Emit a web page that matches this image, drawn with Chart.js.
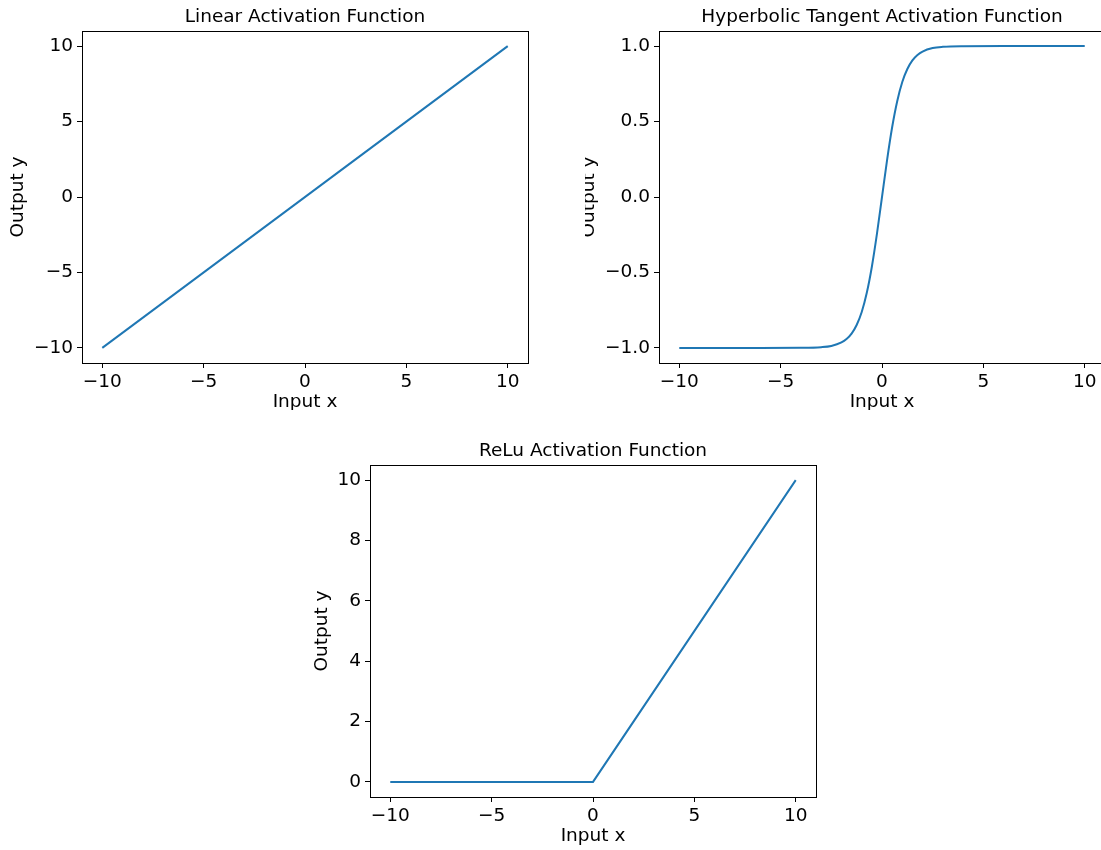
<!DOCTYPE html>
<html>
<head>
<meta charset="utf-8">
<script src="https://cdn.jsdelivr.net/npm/chart.js@4.4.0/dist/chart.umd.min.js"></script>
<style>
  html, body { margin: 0; padding: 0; background: #fff; overflow: hidden; }
  body { width: 1101px; height: 850px; position: relative; }
  .wrap { position: absolute; overflow: hidden; }
  .wrap canvas { position: absolute; top: 0; }
</style>
</head>
<body>
<div class="wrap" style="left:0px;top:0px;width:540px;height:410px;">
  <canvas id="linearChart" width="540" height="420" style="left:0px;width:540px;height:420px;"></canvas>
</div>
<div class="wrap" style="left:585px;top:0px;width:516px;height:410px;">
  <canvas id="tanhChart" width="540" height="420" style="left:-8px;width:540px;height:420px;"></canvas>
</div>
<div class="wrap" style="left:288px;top:434px;width:540px;height:416px;">
  <canvas id="reluChart" width="540" height="420" style="left:0px;width:540px;height:420px;"></canvas>
</div>
<script>
// values
var linearX = [-10, 10];
var linearY = [-10, 10];

var tanhX = [-10, -8, -6, -4, -3, -2.5, -2, -1.75, -1.5, -1.25, -1, -0.75, -0.5, -0.25, 0,
             0.25, 0.5, 0.75, 1, 1.25, 1.5, 1.75, 2, 2.5, 3, 4, 6, 8, 10];
var tanhY = [-1, -1, -1, -0.999, -0.995, -0.987, -0.964, -0.941, -0.905, -0.848, -0.762, -0.635, -0.462, -0.245, 0,
             0.245, 0.462, 0.635, 0.762, 0.848, 0.905, 0.941, 0.964, 0.987, 0.995, 0.999, 1, 1, 1];

var reluX = [-10, 0, 10];
var reluY = [0, 0, 10];

var xTicks = [-10, -5, 0, 5, 10];
var linearYTicks = [-10, -5, 0, 5, 10];
var tanhYTicks = [-1, -0.5, 0, 0.5, 1];
var reluYTicks = [0, 2, 4, 6, 8, 10];

var FONT = 'DejaVu Sans';
var FS = 18.5;

function minus(s) { return String(s).replace('-', '\u2212'); }

// matplotlib-like frame round the plot area
var frame = {
  id: 'frame',
  afterDraw: function(chart) {
    var a = chart.chartArea, c = chart.ctx;
    c.save();
    c.strokeStyle = '#000';
    c.lineWidth = 1;
    c.strokeRect(Math.round(a.left) + 0.5, Math.round(a.top) + 0.5,
                 Math.round(a.right - a.left), Math.round(a.bottom - a.top));
    c.restore();
  }
};

function makeChart(id, title, xs, ys, yMin, yMax, yTicks, yFmt, yTitlePad) {
  var pts = [];
  for (var i = 0; i < xs.length; i++) pts.push({x: xs[i], y: ys[i]});
  return new Chart(document.getElementById(id).getContext('2d'), {
    type: 'line',
    data: {
      datasets: [{
        data: pts,
        borderColor: '#1f77b4',
        borderWidth: 2,
        pointRadius: 0,
        fill: false,
        cubicInterpolationMode: xs.length > 5 ? 'monotone' : 'default'
      }]
    },
    options: {
      responsive: false,
      animation: false,
      layout: { padding: { left: 0, right: 12, top: 0, bottom: 0 } },
      plugins: {
        legend: { display: false },
        tooltip: { enabled: false },
        title: {
          display: true,
          fullSize: false,
          text: title,
          color: '#000',
          font: { family: FONT, size: FS, weight: 'normal', lineHeight: 1.2 },
          padding: { top: 6, bottom: 2.8 }
        }
      },
      scales: {
        x: {
          type: 'linear',
          min: -11, max: 11,
          afterBuildTicks: function(s) { s.ticks = xTicks.map(function(v) { return {value: v}; }); },
          afterFit: function(s) { s.height = 57; },
          ticks: {
            color: '#000',
            font: { family: FONT, size: FS },
            padding: 3,
            maxRotation: 0,
            callback: function(v) { return minus(v); }
          },
          grid: { display: true, drawOnChartArea: false, drawTicks: true, tickLength: 5, color: '#000', lineWidth: 1 },
          border: { display: false },
          title: {
            display: true, text: 'Input x', color: '#000',
            font: { family: FONT, size: FS, lineHeight: 1.2 },
            padding: { top: 0, bottom: 7 }
          }
        },
        y: {
          type: 'linear',
          min: yMin, max: yMax,
          afterBuildTicks: function(s) { s.ticks = yTicks.map(function(v) { return {value: v}; }); },
          afterFit: function(s) { s.width = 82; },
          ticks: {
            color: '#000',
            font: { family: FONT, size: FS },
            padding: 4,
            callback: function(v) { return minus(yFmt(v)); }
          },
          grid: { display: true, drawOnChartArea: false, drawTicks: true, tickLength: 5, color: '#000', lineWidth: 1 },
          border: { display: false },
          title: {
            display: true, text: 'Output y', color: '#000',
            font: { family: FONT, size: FS, lineHeight: 1.2 },
            padding: { top: yTitlePad, bottom: 0 }
          }
        }
      }
    },
    plugins: [frame]
  });
}

makeChart('linearChart', 'Linear Activation Function', linearX, linearY, -11, 11, linearYTicks,
  function(v) { return String(v); }, 7);
makeChart('tanhChart', 'Hyperbolic Tangent Activation Function', tanhX, tanhY, -1.1, 1.1, tanhYTicks,
  function(v) { return v.toFixed(1); }, 1);
makeChart('reluChart', 'ReLu Activation Function', reluX, reluY, -0.5, 10.5, reluYTicks,
  function(v) { return String(v); }, 23);
</script>
</body>
</html>
